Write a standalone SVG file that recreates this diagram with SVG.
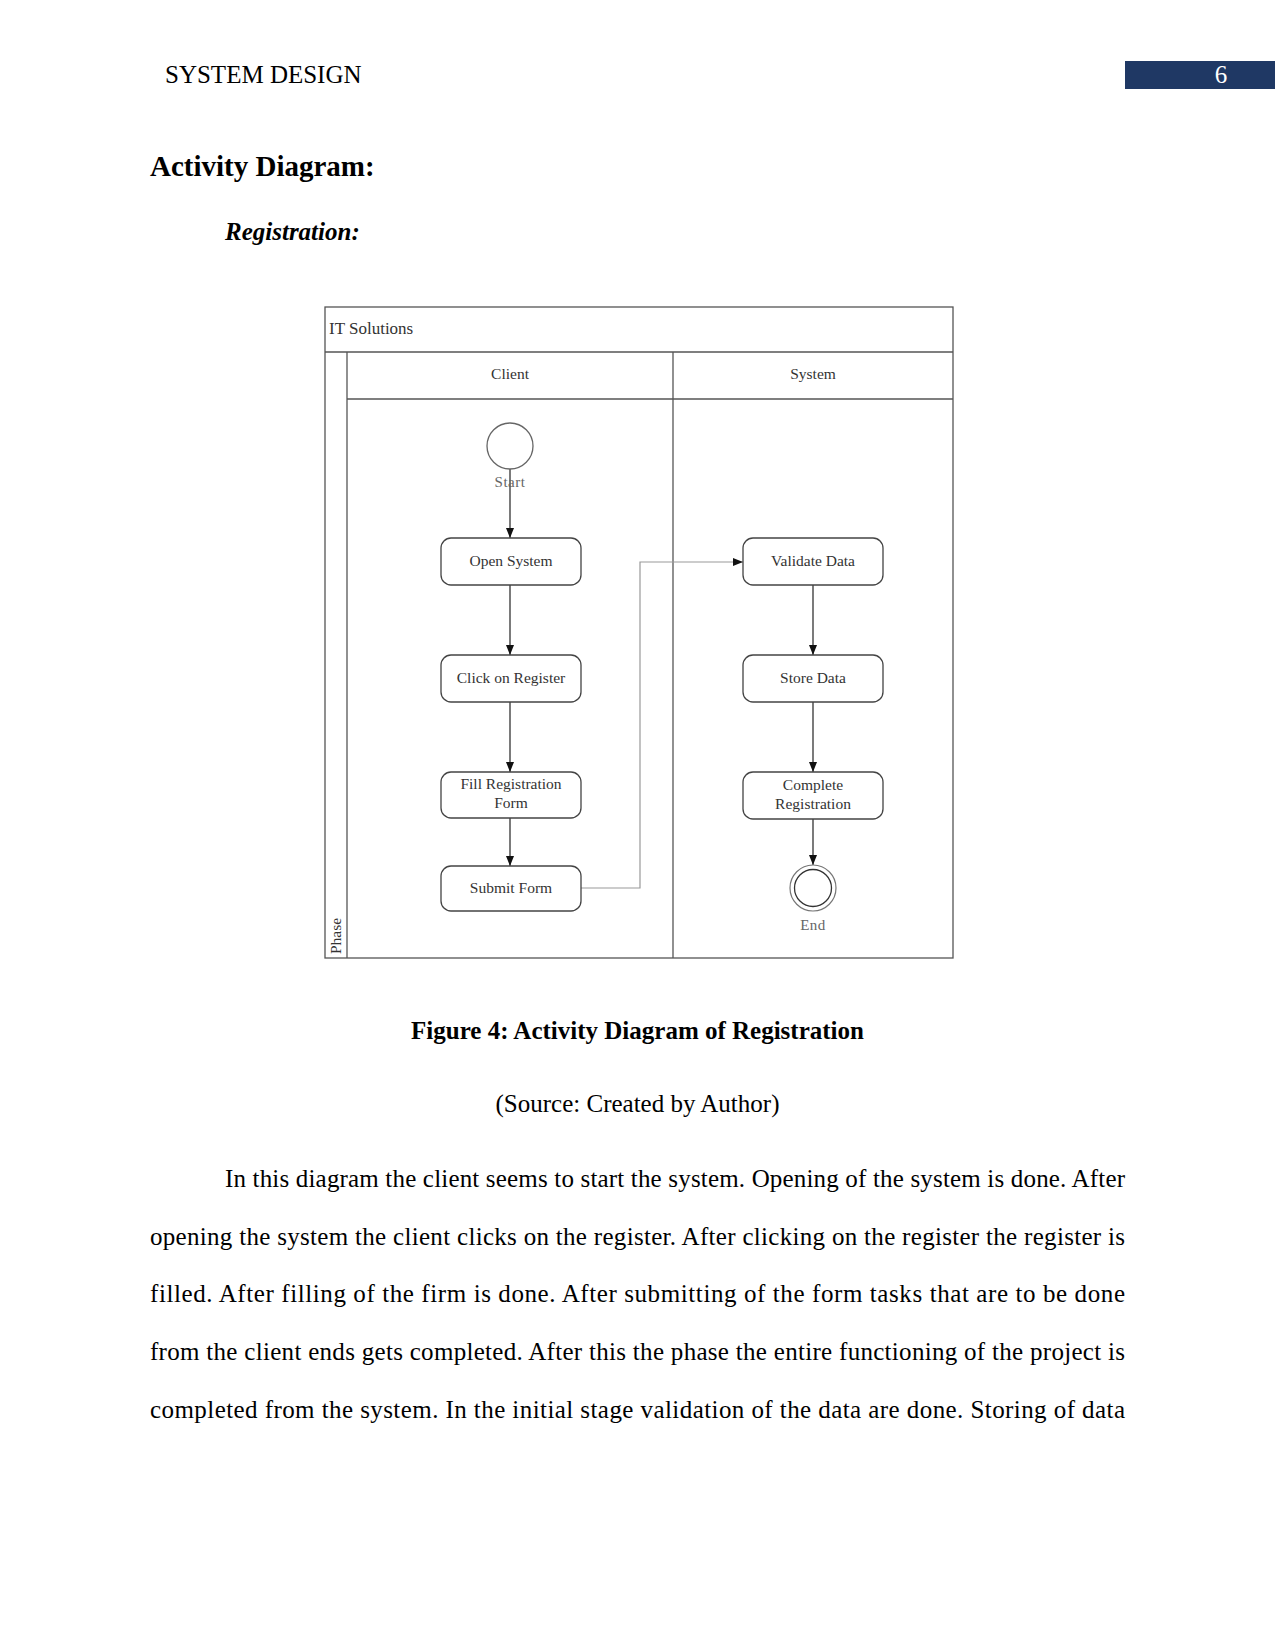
<svg xmlns="http://www.w3.org/2000/svg" width="1275" height="1650" viewBox="0 0 1275 1650">
<defs>
<marker id="arr" markerWidth="10" markerHeight="8" refX="10" refY="4" orient="auto" markerUnits="userSpaceOnUse">
<path d="M0,0 L10,4 L0,8 Z" fill="#111"/>
</marker>
</defs>
<style>
.page{font-family:"Liberation Serif","Times New Roman",serif;fill:#000}
.frame{fill:none;stroke:#555;stroke-width:1.3}
.box{fill:#fff;stroke:#444;stroke-width:1.3}
.lbl{font-family:"Liberation Serif","Times New Roman",serif;font-size:15.5px;fill:#333;text-anchor:middle}
.hdr{font-family:"Liberation Serif","Times New Roman",serif;font-size:15.5px;fill:#333}
.title{font-family:"Liberation Serif","Times New Roman",serif;font-size:17px;fill:#333}
.glbl{font-family:"Liberation Serif","Times New Roman",serif;font-size:15px;fill:#666;text-anchor:middle;letter-spacing:0.5px}
.flow{fill:none;stroke:#222;stroke-width:1.2}
.flow2{fill:none;stroke:#999;stroke-width:1.2}
.para{font-family:"Liberation Serif","Times New Roman",serif;font-size:25px;fill:#000}
</style>
<rect width="1275" height="1650" fill="#fff"/>

<!-- page header -->
<text class="page" x="165" y="83" font-size="25">SYSTEM DESIGN</text>
<rect x="1125" y="61" width="150" height="28" fill="#1f3864"/>
<text x="1221" y="83" font-family="Liberation Serif, serif" font-size="25" fill="#fff" text-anchor="middle">6</text>

<text class="page" x="150" y="176" font-size="29" font-weight="bold">Activity Diagram:</text>
<text class="page" x="225" y="240" font-size="25" font-weight="bold" font-style="italic">Registration:</text>

<!-- swimlane frame -->
<g id="frame">
<rect class="frame" x="325" y="307" width="628" height="651"/>
<line class="frame" x1="325" y1="352" x2="953" y2="352"/>
<line class="frame" x1="347" y1="352" x2="347" y2="958"/>
<line class="frame" x1="347" y1="399" x2="953" y2="399"/>
<line class="frame" x1="673" y1="352" x2="673" y2="958"/>
<text class="title" x="329" y="334">IT Solutions</text>
<text class="hdr" x="510" y="379" text-anchor="middle">Client</text>
<text class="hdr" x="813" y="379" text-anchor="middle">System</text>
<text class="hdr" transform="translate(341,954) rotate(-90)">Phase</text>
</g>

<!-- connectors -->
<g id="connectors">
<line class="flow" x1="510" y1="469" x2="510" y2="538" marker-end="url(#arr)"/>
<line class="flow" x1="510" y1="585" x2="510" y2="655" marker-end="url(#arr)"/>
<line class="flow" x1="510" y1="702" x2="510" y2="772" marker-end="url(#arr)"/>
<line class="flow" x1="510" y1="818" x2="510" y2="866" marker-end="url(#arr)"/>
<polyline class="flow2" points="581,888 640,888 640,562 743,562" marker-end="url(#arr)"/>
<line class="flow" x1="813" y1="585" x2="813" y2="655" marker-end="url(#arr)"/>
<line class="flow" x1="813" y1="702" x2="813" y2="772" marker-end="url(#arr)"/>
<line class="flow" x1="813" y1="819" x2="813" y2="865" marker-end="url(#arr)"/>
</g>

<!-- nodes -->
<g id="start">
<circle cx="510" cy="446" r="23" fill="#fff" stroke="#666" stroke-width="1.3"/>
<text class="glbl" x="510" y="487">Start</text>
</g>
<g id="open-system">
<rect class="box" x="441" y="538" width="140" height="47" rx="10"/>
<text class="lbl" x="511" y="566">Open System</text>
</g>
<g id="click-register">
<rect class="box" x="441" y="655" width="140" height="47" rx="10"/>
<text class="lbl" x="511" y="683">Click on Register</text>
</g>
<g id="fill-form">
<rect class="box" x="441" y="772" width="140" height="46" rx="10"/>
<text class="lbl" x="511" y="789">Fill Registration</text>
<text class="lbl" x="511" y="808">Form</text>
</g>
<g id="submit-form">
<rect class="box" x="441" y="866" width="140" height="45" rx="10"/>
<text class="lbl" x="511" y="893">Submit Form</text>
</g>
<g id="validate-data">
<rect class="box" x="743" y="538" width="140" height="47" rx="10"/>
<text class="lbl" x="813" y="566">Validate Data</text>
</g>
<g id="store-data">
<rect class="box" x="743" y="655" width="140" height="47" rx="10"/>
<text class="lbl" x="813" y="683">Store Data</text>
</g>
<g id="complete-registration">
<rect class="box" x="743" y="772" width="140" height="47" rx="10"/>
<text class="lbl" x="813" y="790">Complete</text>
<text class="lbl" x="813" y="809">Registration</text>
</g>
<g id="end">
<circle cx="813" cy="888" r="23" fill="#fff" stroke="#777" stroke-width="1.2"/>
<circle cx="813" cy="888" r="18.5" fill="#fff" stroke="#333" stroke-width="1.3"/>
<text class="glbl" x="813" y="930">End</text>
</g>

<!-- caption -->
<text class="page" x="637.5" y="1039" font-size="25" font-weight="bold" text-anchor="middle">Figure 4: Activity Diagram of Registration</text>
<text class="page" x="637.5" y="1112" font-size="25" text-anchor="middle">(Source: Created by Author)</text>

<!-- paragraph -->
<text class="para" x="225" y="1187" textLength="900" lengthAdjust="spacing">In this diagram the client seems to start the system. Opening of the system is done. After</text>
<text class="para" x="150" y="1244.5" textLength="975" lengthAdjust="spacing">opening the system the client clicks on the register. After clicking on the register the register is</text>
<text class="para" x="150" y="1302" textLength="975" lengthAdjust="spacing">filled. After filling of the firm is done. After submitting of the form tasks that are to be done</text>
<text class="para" x="150" y="1360" textLength="975" lengthAdjust="spacing">from the client ends gets completed. After this the phase the entire functioning of the project is</text>
<text class="para" x="150" y="1417.5" textLength="975" lengthAdjust="spacing">completed from the system. In the initial stage validation of the data are done. Storing of data</text>
</svg>
